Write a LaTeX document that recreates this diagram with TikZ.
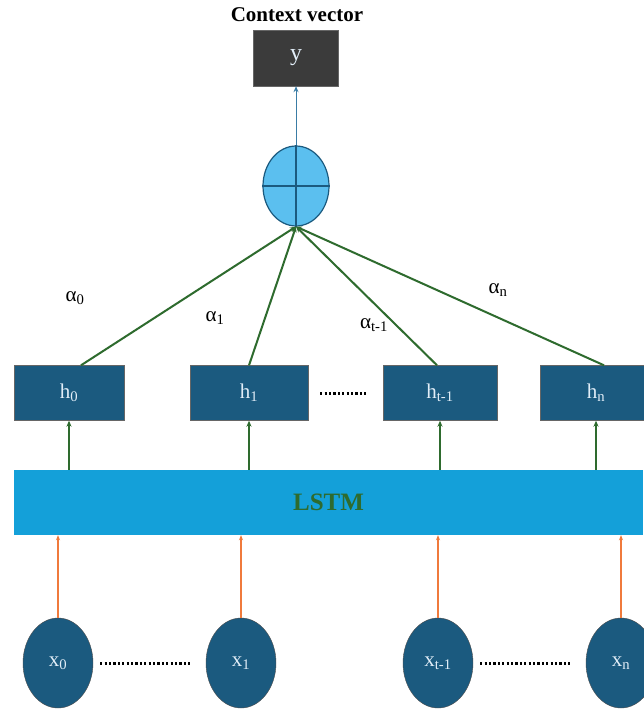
\documentclass[tikz,border=0pt]{standalone}
\usepackage{fontspec}
\setmainfont{Liberation Serif}
\usetikzlibrary{arrows.meta,shapes.geometric}
\definecolor{hblue}{HTML}{1B5A7F}
\definecolor{barblue}{HTML}{14A0D9}
\definecolor{sumblue}{HTML}{5BBFEF}
\definecolor{lgreen}{HTML}{2E6B2E}
\definecolor{lorange}{HTML}{F07A3C}
\definecolor{ygray}{HTML}{3B3B3B}
\definecolor{yarrow}{HTML}{3A7CA5}
\definecolor{ltext}{HTML}{E2EEF8}
\tikzset{
  hbox/.style={draw=black!60, fill=hblue, minimum width=112pt, minimum height=55pt,
    inner sep=0pt, text=ltext, font=\fontsize{21}{21}\selectfont},
  xnode/.style={ellipse, draw=black!70, fill=hblue, minimum width=70pt, minimum height=90pt,
    inner sep=0pt, text=ltext, font=\fontsize{21}{21}\selectfont},
  garrow/.style={draw=lgreen, line width=2pt, -{Stealth[length=6pt,width=5pt]}},
  oarrow/.style={draw=lorange, line width=1.6pt, -{Stealth[length=5pt,width=4pt]}},
  dotrow/.style={line width=3pt, dash pattern=on 2.2pt off 2.2pt},
  alab/.style={font=\fontsize{21}{21}\selectfont}
}
\begin{document}
\begin{tikzpicture}[x=1pt,y=-1pt]
        \useasboundingbox[fill=white] (0,0) rectangle (643,714);
        % Output and attention sum
        \node[font=\bfseries\fontsize{21}{21}\selectfont] (ctx) at (297,15) {Context vector};
        \node[draw=black!60, fill=ygray, minimum width=85pt, minimum height=56pt,
              text=ltext, font=\fontsize{24}{24}\selectfont] (y) at (296,58) {y};
        \node[ellipse, draw=hblue, line width=1.2pt, fill=sumblue, minimum width=66pt,
              minimum height=80pt, inner sep=0pt] (sum) at (296,186) {};
        \draw[hblue, line width=1.2pt] (sum.north) -- (sum.south);
        \draw[hblue, line width=1.2pt] (sum.west) -- (sum.east);
        \draw[yarrow, line width=1pt, -{Stealth[length=6pt,width=5pt]}] (sum.north) -- (y.south);
        % Hidden states
        \node[hbox, minimum width=110pt] (h0) at (69,393) {h\textsubscript{0}};
        \node[hbox, minimum width=118pt] (h1) at (249,393) {h\textsubscript{1}};
        \node[hbox, minimum width=114pt] (ht) at (440,393) {h\textsubscript{t-1}};
        \node[hbox, minimum width=112pt] (hn) at (596,393) {h\textsubscript{n}};
        \draw[dotrow, shorten <=12pt, shorten >=15pt] (h1.east) -- (ht.west);
        % Attention weights
        \draw[garrow] ([xshift=12pt]h0.north) -- (sum.south);
        \draw[garrow] (h1.north) -- (sum.south);
        \draw[garrow] ([xshift=-3pt]ht.north) -- (sum.south);
        \draw[garrow] ([xshift=8pt]hn.north) -- (sum.south);
        \node[alab] (a0) at (75,298) {α\textsubscript{0}};
        \node[alab] (a1) at (215,318) {α\textsubscript{1}};
        \node[alab] (at) at (374,325) {α\textsubscript{t-1}};
        \node[alab] (an) at (498,290) {α\textsubscript{n}};
        % LSTM layer
        \node[fill=barblue, minimum width=629pt, minimum height=65pt, inner sep=0pt,
              text=lgreen, font=\bfseries\fontsize{25}{25}\selectfont] (lstm) at (328.5,502.5) {LSTM};
        \foreach \h in {h0,h1,ht,hn}
            \draw[garrow, line width=1.6pt] (lstm.north -| \h.south) -- (\h.south);
        % Inputs
        \node[xnode] (x0) at (58,663) {x\textsubscript{0}};
        \node[xnode] (x1) at (241,663) {x\textsubscript{1}};
        \node[xnode] (xt) at (438,663) {x\textsubscript{t-1}};
        \node[xnode] (xn) at (621,663) {x\textsubscript{n}};
        \foreach \x in {x0,x1,xt,xn}
            \draw[oarrow] (\x.north) -- (\x.north |- lstm.south);
        \draw[dotrow, shorten <=7pt, shorten >=16pt] (x0.east) -- (x1.west);
        \draw[dotrow, shorten <=7pt, shorten >=16pt] (xt.east) -- (xn.west);
    \end{tikzpicture}
\end{document}
